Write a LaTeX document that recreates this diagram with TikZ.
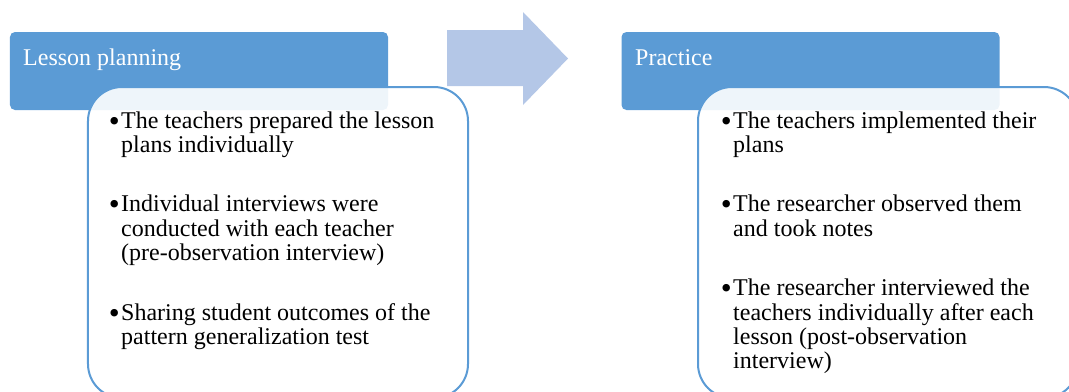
\documentclass[tikz,border=0pt]{standalone}
\usepackage{fontspec}
\setmainfont{Liberation Serif}
\definecolor{hdrblue}{HTML}{5B9BD5}
\definecolor{arrblue}{HTML}{B4C7E7}
\tikzset{
  hdrbox/.style={rectangle, rounded corners=5bp, fill=hdrblue, draw=none, minimum width=378bp, minimum height=78bp, inner sep=0pt},
  bodybox/.style={rectangle, rounded corners=34bp, fill=white, fill opacity=0.9, draw=hdrblue, draw opacity=1, line width=2bp, minimum width=380bp, minimum height=311bp, inner sep=0pt},
  hdrtext/.style={anchor=base west, inner sep=0pt, text=white, font=\fontsize{24bp}{24.5bp}\selectfont},
  bodytext/.style={anchor=base west, inner sep=0pt, text=black, font=\fontsize{24bp}{24.4bp}\selectfont},
}
\newcommand{\bitem}{\leavevmode\llap{\raisebox{-3bp}{\scalebox{1.3}{\textbullet}}\hspace{1.5bp}}}
\newcommand{\bgap}{\par\vspace{35bp}}
\begin{document}
\begin{tikzpicture}[x=1bp,y=-1bp]
\useasboundingbox (0,0) rectangle (1069,391);
\clip (0,0) rectangle (1069,391);
% arrow
\fill[arrblue] (447,30) -- (523,30) -- (523,12) -- (568,58.5) -- (523,105) -- (523,86) -- (447,86) -- cycle;
% left
\node[hdrbox] (lhead) at (199,71) {};
\node[hdrtext] (ltitle) at (23,65) {Lesson planning};
\node[bodybox] (lbody) at (278,242.5) {};
\node[bodytext] (ltext) at (121,128) {\parbox[t]{340bp}{\raggedright
\bitem The teachers prepared the lesson\\ plans individually\bgap
\bitem Individual interviews were\\ conducted with each teacher\\ (pre-observation interview)\bgap
\bitem Sharing student outcomes of the\\ pattern generalization test}};
% right
\node[hdrbox] (rhead) at (810.5,71) {};
\node[hdrtext] (rtitle) at (635,65) {Practice};
\node[bodybox] (rbody) at (888,242.5) {};
\node[bodytext] (rtext) at (733,128) {\parbox[t]{340bp}{\raggedright
\bitem The teachers implemented their\\ plans\bgap
\bitem The researcher observed them\\ and took notes\bgap
\bitem The researcher interviewed the\\ teachers individually after each\\ lesson (post-observation\\ interview)}};
\end{tikzpicture}
\end{document}
